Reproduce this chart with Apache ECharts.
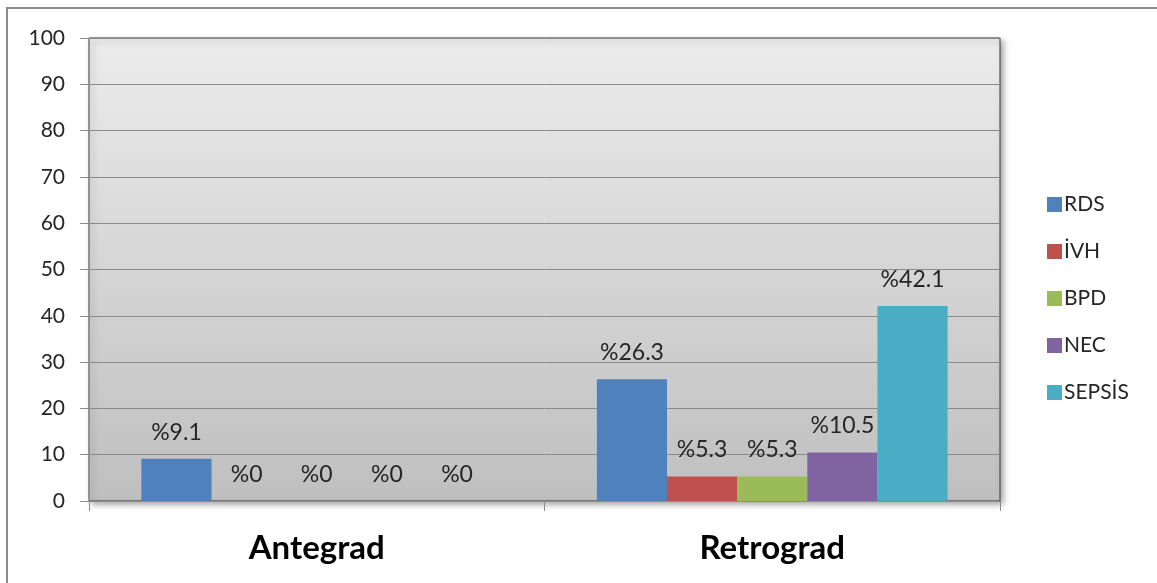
<!DOCTYPE html>
<html>
<head>
<meta charset="utf-8">
<script src="https://cdn.jsdelivr.net/npm/echarts@6/dist/echarts.min.js"></script>
<style>
  html, body { margin: 0; padding: 0; background: #fff; }
  #chart { width: 1157px; height: 583px; }
</style>
</head>
<body>
<div id="chart"></div>
<script>
// Groups on the category axis
const categories = ['Antegrad', 'Retrograd'];

// Percentages per complication, one value per group
const seriesNames = ['RDS', 'İVH', 'BPD', 'NEC', 'SEPSİS'];
const rds    = [9.1, 26.3];
const ivh    = [0, 5.3];
const bpd    = [0, 5.3];
const nec    = [0, 10.5];
const sepsis = [0, 42.1];
const seriesValues = [rds, ivh, bpd, nec, sepsis];

const colors = ['#4f81bd', '#c0504d', '#9bbb59', '#8064a2', '#4bacc6'];
const FONT = 'Lato, "Open Sans", sans-serif';

const chart = echarts.init(document.getElementById('chart'));

chart.setOption({
  animation: false,
  textStyle: { fontFamily: FONT },
  graphic: [{
    type: 'rect',
    shape: { x: 7, y: 8, width: 1160, height: 590 },
    style: { fill: 'none', stroke: '#8c8c8c', lineWidth: 2 },
    silent: true,
    z: -10
  }],
  grid: {
    left: 89, right: 157, top: 38, bottom: 82,
    show: true,
    backgroundColor: {
      type: 'linear', x: 0, y: 0, x2: 0, y2: 1,
      colorStops: [
        { offset: 0, color: '#ececec' },
        { offset: 1, color: '#bfbfbf' }
      ]
    },
    borderColor: '#3a3a3a',
    borderWidth: 1,
    shadowColor: 'rgba(0,0,0,0.35)',
    shadowBlur: 6,
    shadowOffsetX: 3,
    shadowOffsetY: 3
  },
  legend: {
    orient: 'vertical',
    left: 1042,
    top: 189,
    itemWidth: 15,
    itemHeight: 15,
    itemGap: 26,
    icon: 'rect',
    textStyle: { fontSize: 21, color: '#262626', fontFamily: FONT, padding: [0, 0, 0, -3] },
    data: seriesNames
  },
  xAxis: {
    type: 'category',
    data: categories,
    axisLine: { lineStyle: { color: '#8c8c8c', width: 1 } },
    axisTick: { show: true, length: 10, lineStyle: { color: '#8c8c8c' } },
    axisLabel: { fontSize: 33, fontWeight: 'bold', color: '#000', margin: 31, fontFamily: FONT }
  },
  yAxis: {
    type: 'value',
    min: 0, max: 100, interval: 10,
    axisLine: { show: true, lineStyle: { color: '#8c8c8c' } },
    axisTick: { show: true, length: 9, lineStyle: { color: '#8c8c8c' } },
    axisLabel: { fontSize: 21, color: '#262626', margin: 24, fontFamily: FONT },
    splitLine: { lineStyle: { color: '#8a8a8a', width: 1 } }
  },
  series: seriesNames.map((name, i) => ({
    name: name,
    type: 'bar',
    data: seriesValues[i],
    barGap: '0%',
    barCategoryGap: '23%',
    itemStyle: { color: colors[i] },
    label: {
      show: true,
      position: 'top',
      distance: 15,
      fontSize: 23,
      color: '#262626',
      fontFamily: FONT,
      formatter: p => '%' + p.value
    }
  }))
});
</script>
</body>
</html>
